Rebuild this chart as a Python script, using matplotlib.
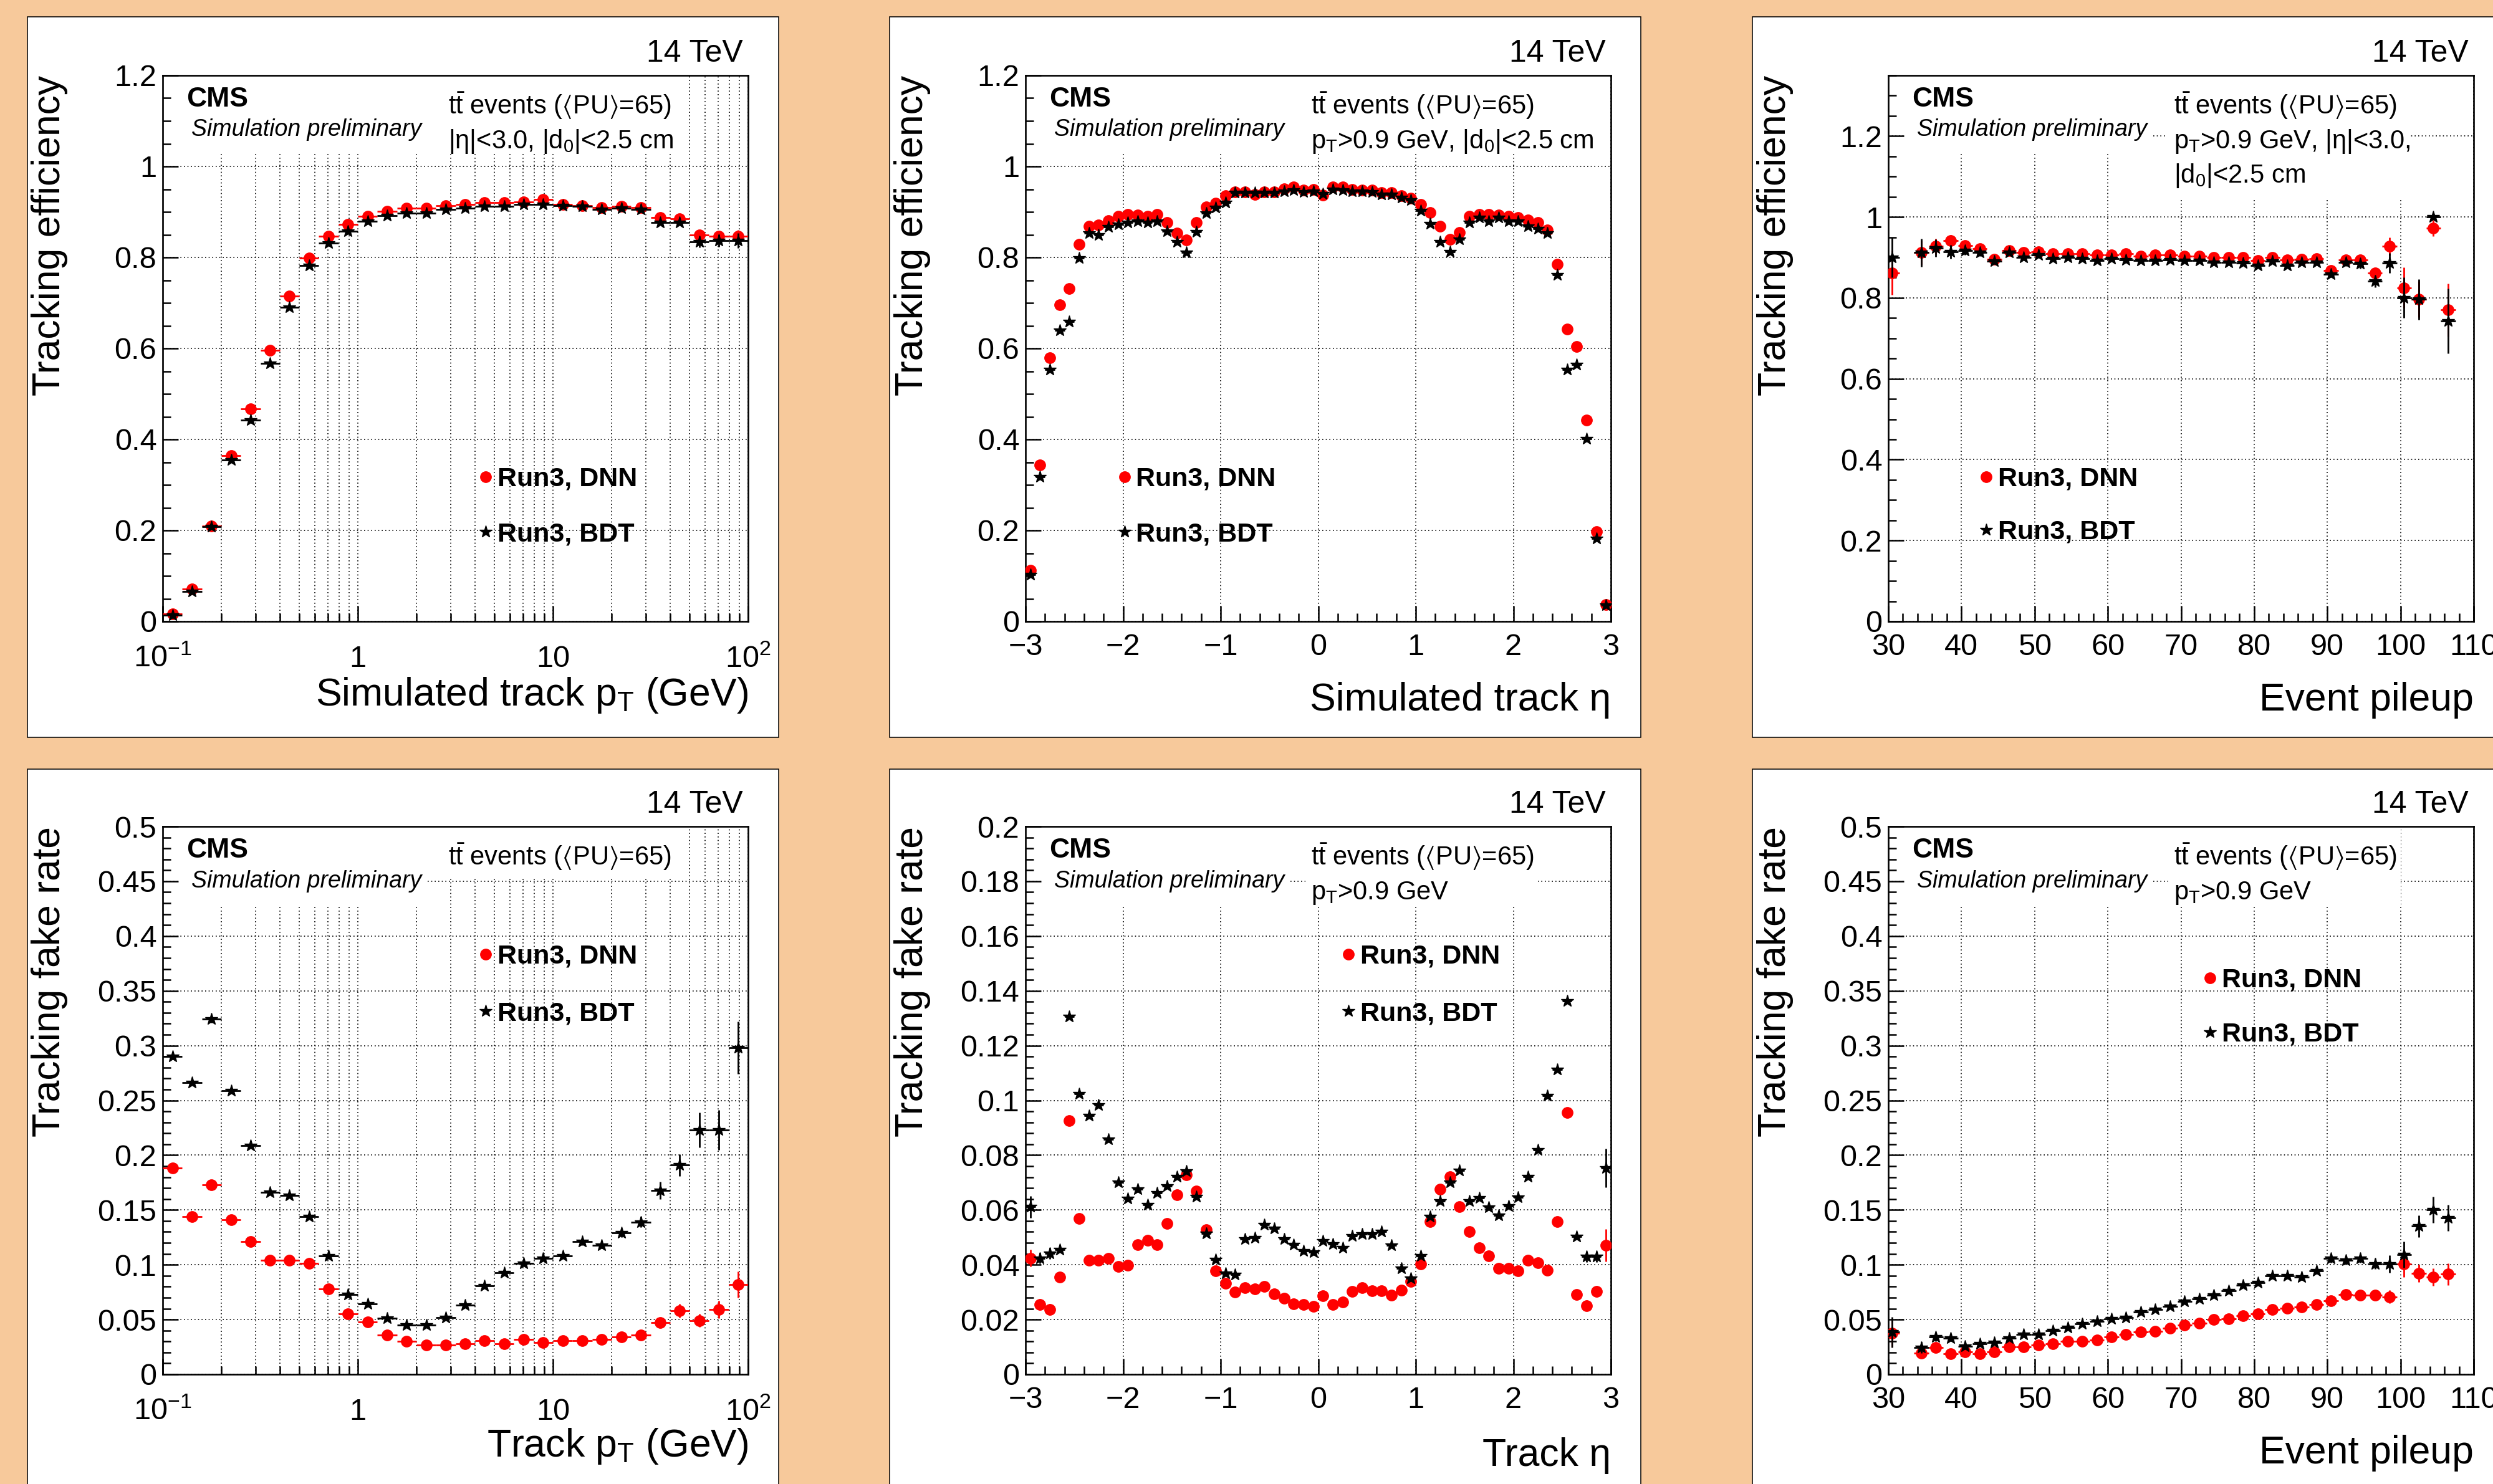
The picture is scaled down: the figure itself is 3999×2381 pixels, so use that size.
import numpy as np
import matplotlib
matplotlib.use("Agg")
import matplotlib.pyplot as plt
from matplotlib.patches import Rectangle
from matplotlib.ticker import (MultipleLocator, FixedLocator, FixedFormatter,
                               LogLocator, NullFormatter, FuncFormatter)

plt.rcParams["font.family"] = "Liberation Sans"
plt.rcParams["mathtext.fontset"] = "custom"
plt.rcParams["mathtext.rm"] = "Liberation Sans"
plt.rcParams["mathtext.it"] = "Liberation Sans:italic"
plt.rcParams["mathtext.bf"] = "Liberation Sans:bold"
plt.rcParams["mathtext.default"] = "regular"
plt.rcParams["mathtext.fallback"] = "stixsans"

# ---- data ----
# pT bins: 30 log bins from 0.1 to 100 GeV
pt_edges = np.logspace(-1, 2, 31)
eta_centers = np.round(np.arange(-2.95, 3.0, 0.1), 2)
pu_centers = [30.5, 34.5, 36.5, 38.5, 40.5, 42.5, 44.5, 46.5, 48.5, 50.5,
              52.5, 54.5, 56.5, 58.5, 60.5, 62.5, 64.5, 66.5, 68.5, 70.5,
              72.5, 74.5, 76.5, 78.5, 80.5, 82.5, 84.5, 86.5, 88.5, 90.5,
              92.5, 94.5, 96.5, 98.5, 100.5, 102.5, 104.5, 106.5]

# efficiency vs pT
dnn_eff_pt = [0.016, 0.071, 0.210, 0.365, 0.467, 0.596, 0.715, 0.799, 0.847, 0.872,
              0.890, 0.902, 0.908, 0.908, 0.914, 0.916, 0.921, 0.921, 0.922, 0.927,
              0.916, 0.914, 0.909, 0.913, 0.909, 0.887, 0.885, 0.850, 0.846, 0.846]
bdt_eff_pt = [0.014, 0.066, 0.208, 0.355, 0.442, 0.567, 0.690, 0.782, 0.832, 0.857,
              0.879, 0.892, 0.897, 0.897, 0.906, 0.908, 0.913, 0.913, 0.916, 0.916,
              0.914, 0.913, 0.906, 0.908, 0.906, 0.877, 0.877, 0.834, 0.837, 0.837]
dnn_eff_pt_err = [0.002, 0.002, 0.002, 0.002, 0.002, 0.002, 0.002, 0.002, 0.002, 0.002,
                  0.002, 0.002, 0.002, 0.002, 0.002, 0.002, 0.002, 0.002, 0.002, 0.002,
                  0.002, 0.003, 0.003, 0.003, 0.004, 0.005, 0.006, 0.010, 0.012, 0.014]
bdt_eff_pt_err = [0.002, 0.002, 0.002, 0.002, 0.002, 0.002, 0.002, 0.002, 0.002, 0.002,
                  0.002, 0.002, 0.002, 0.002, 0.002, 0.002, 0.002, 0.002, 0.002, 0.002,
                  0.002, 0.003, 0.003, 0.003, 0.004, 0.005, 0.006, 0.012, 0.014, 0.016]

# efficiency vs eta
dnn_eff_eta = [0.113, 0.344, 0.580, 0.696, 0.731, 0.829, 0.869, 0.871, 0.881, 0.890,
               0.895, 0.893, 0.890, 0.895, 0.877, 0.853, 0.839, 0.877, 0.911, 0.919,
               0.935, 0.944, 0.944, 0.939, 0.944, 0.944, 0.951, 0.955, 0.948, 0.950,
               0.937, 0.955, 0.955, 0.950, 0.948, 0.948, 0.942, 0.942, 0.935, 0.930,
               0.916, 0.898, 0.869, 0.840, 0.855, 0.890, 0.895, 0.895, 0.893, 0.890,
               0.888, 0.882, 0.877, 0.860, 0.785, 0.643, 0.604, 0.442, 0.197, 0.037]
bdt_eff_eta = [0.103, 0.318, 0.554, 0.640, 0.659, 0.798, 0.853, 0.849, 0.867, 0.873,
               0.877, 0.879, 0.877, 0.879, 0.858, 0.834, 0.811, 0.856, 0.897, 0.909,
               0.921, 0.942, 0.942, 0.942, 0.942, 0.942, 0.945, 0.948, 0.944, 0.945,
               0.940, 0.950, 0.948, 0.945, 0.945, 0.944, 0.939, 0.939, 0.931, 0.926,
               0.903, 0.874, 0.834, 0.813, 0.840, 0.877, 0.887, 0.879, 0.887, 0.879,
               0.879, 0.869, 0.863, 0.853, 0.762, 0.554, 0.565, 0.402, 0.182, 0.035]
eff_eta_err = [0.004, 0.003, 0.003, 0.003, 0.002, 0.002, 0.002, 0.002, 0.002, 0.002,
               0.002, 0.002, 0.002, 0.002, 0.002, 0.002, 0.002, 0.002, 0.002, 0.002,
               0.002, 0.002, 0.002, 0.002, 0.002, 0.002, 0.002, 0.002, 0.002, 0.002,
               0.002, 0.002, 0.002, 0.002, 0.002, 0.002, 0.002, 0.002, 0.002, 0.002,
               0.002, 0.002, 0.002, 0.002, 0.002, 0.002, 0.002, 0.002, 0.002, 0.002,
               0.002, 0.002, 0.002, 0.002, 0.002, 0.003, 0.003, 0.003, 0.003, 0.004]

# efficiency vs pileup
dnn_eff_pu = [0.862, 0.912, 0.927, 0.941, 0.929, 0.921, 0.896, 0.917, 0.912, 0.914,
              0.909, 0.909, 0.909, 0.906, 0.906, 0.909, 0.903, 0.906, 0.906, 0.903,
              0.903, 0.900, 0.900, 0.900, 0.892, 0.900, 0.894, 0.896, 0.897, 0.868,
              0.894, 0.894, 0.862, 0.927, 0.825, 0.797, 0.973, 0.770]
bdt_eff_pu = [0.900, 0.912, 0.923, 0.914, 0.917, 0.912, 0.890, 0.912, 0.900, 0.906,
              0.897, 0.900, 0.897, 0.892, 0.897, 0.894, 0.892, 0.892, 0.894, 0.892,
              0.892, 0.888, 0.888, 0.886, 0.880, 0.890, 0.880, 0.888, 0.888, 0.858,
              0.888, 0.884, 0.841, 0.886, 0.800, 0.796, 1.000, 0.743]
dnn_eff_pu_err = [0.055, 0.030, 0.020, 0.015, 0.010, 0.008, 0.007, 0.006, 0.005, 0.005,
                  0.005, 0.005, 0.004, 0.004, 0.004, 0.004, 0.004, 0.004, 0.004, 0.004,
                  0.004, 0.004, 0.004, 0.004, 0.005, 0.005, 0.005, 0.006, 0.007, 0.008,
                  0.009, 0.011, 0.014, 0.022, 0.050, 0.045, 0.020, 0.065]
bdt_eff_pu_err = [0.050, 0.035, 0.022, 0.017, 0.011, 0.009, 0.007, 0.006, 0.005, 0.005,
                  0.005, 0.005, 0.004, 0.004, 0.004, 0.004, 0.004, 0.004, 0.004, 0.004,
                  0.004, 0.004, 0.004, 0.004, 0.005, 0.005, 0.005, 0.006, 0.007, 0.008,
                  0.009, 0.011, 0.015, 0.025, 0.050, 0.050, 0.004, 0.080]

# fake rate vs pT
dnn_fake_pt = [0.188, 0.144, 0.173, 0.141, 0.121, 0.104, 0.104, 0.101, 0.078, 0.055,
               0.048, 0.036, 0.030, 0.027, 0.027, 0.028, 0.031, 0.028, 0.032, 0.029,
               0.031, 0.031, 0.032, 0.034, 0.036, 0.047, 0.058, 0.049, 0.059, 0.082]
bdt_fake_pt = [0.290, 0.266, 0.324, 0.259, 0.209, 0.166, 0.163, 0.144, 0.108, 0.073,
               0.064, 0.051, 0.045, 0.045, 0.052, 0.063, 0.081, 0.093, 0.101, 0.106,
               0.108, 0.121, 0.118, 0.129, 0.139, 0.168, 0.191, 0.223, 0.223, 0.298]
dnn_fake_pt_err = [0.003, 0.002, 0.002, 0.002, 0.002, 0.002, 0.002, 0.002, 0.002, 0.002,
                   0.002, 0.002, 0.001, 0.001, 0.001, 0.001, 0.001, 0.001, 0.002, 0.002,
                   0.002, 0.002, 0.002, 0.002, 0.003, 0.004, 0.006, 0.006, 0.008, 0.012]
bdt_fake_pt_err = [0.003, 0.002, 0.003, 0.002, 0.002, 0.002, 0.002, 0.002, 0.002, 0.002,
                   0.002, 0.002, 0.001, 0.001, 0.001, 0.002, 0.002, 0.002, 0.002, 0.002,
                   0.002, 0.003, 0.003, 0.004, 0.005, 0.008, 0.010, 0.016, 0.018, 0.024]

# fake rate vs eta
dnn_fake_eta = [0.0424, 0.0255, 0.0237, 0.0355, 0.0926, 0.0568, 0.0416, 0.0416, 0.0424, 0.0393,
                0.0398, 0.0473, 0.0490, 0.0473, 0.0551, 0.0655, 0.0727, 0.0670, 0.0528, 0.0377,
                0.0332, 0.0300, 0.0317, 0.0312, 0.0320, 0.0294, 0.0277, 0.0256, 0.0255, 0.0248,
                0.0286, 0.0255, 0.0265, 0.0303, 0.0317, 0.0306, 0.0306, 0.0289, 0.0308, 0.0338,
                0.0402, 0.0558, 0.0675, 0.0722, 0.0611, 0.0520, 0.0462, 0.0433, 0.0386, 0.0386,
                0.0377, 0.0416, 0.0407, 0.0381, 0.0558, 0.0956, 0.0291, 0.0251, 0.0303, 0.0471]
bdt_fake_eta = [0.0611, 0.0424, 0.0442, 0.0455, 0.1307, 0.1025, 0.0944, 0.0984, 0.0857, 0.0701,
                0.0641, 0.0675, 0.0620, 0.0663, 0.0687, 0.0722, 0.0741, 0.0649, 0.0514, 0.0419,
                0.0369, 0.0364, 0.0494, 0.0499, 0.0545, 0.0532, 0.0494, 0.0473, 0.0450, 0.0445,
                0.0488, 0.0476, 0.0462, 0.0506, 0.0511, 0.0511, 0.0520, 0.0471, 0.0386, 0.0350,
                0.0433, 0.0575, 0.0632, 0.0701, 0.0745, 0.0632, 0.0644, 0.0610, 0.0580, 0.0615,
                0.0646, 0.0722, 0.0819, 0.1018, 0.1113, 0.1364, 0.0502, 0.0429, 0.0429, 0.0753]
dnn_fake_eta_err = [0.003, 0.002, 0.002, 0.001, 0.001, 0.001, 0.001, 0.001, 0.001, 0.001,
                    0.001, 0.001, 0.001, 0.001, 0.001, 0.001, 0.001, 0.001, 0.001, 0.001,
                    0.001, 0.001, 0.001, 0.001, 0.001, 0.001, 0.001, 0.001, 0.001, 0.001,
                    0.001, 0.001, 0.001, 0.001, 0.001, 0.001, 0.001, 0.001, 0.001, 0.001,
                    0.001, 0.001, 0.001, 0.001, 0.001, 0.001, 0.001, 0.001, 0.001, 0.001,
                    0.001, 0.001, 0.001, 0.001, 0.001, 0.001, 0.001, 0.002, 0.002, 0.006]
bdt_fake_eta_err = [0.004, 0.002, 0.002, 0.001, 0.001, 0.001, 0.001, 0.001, 0.001, 0.001,
                    0.001, 0.001, 0.001, 0.001, 0.001, 0.001, 0.001, 0.001, 0.001, 0.001,
                    0.001, 0.001, 0.001, 0.001, 0.001, 0.001, 0.001, 0.001, 0.001, 0.001,
                    0.001, 0.001, 0.001, 0.001, 0.001, 0.001, 0.001, 0.001, 0.001, 0.001,
                    0.001, 0.001, 0.001, 0.001, 0.001, 0.001, 0.001, 0.001, 0.001, 0.001,
                    0.001, 0.001, 0.001, 0.001, 0.001, 0.001, 0.001, 0.002, 0.002, 0.007]

# fake rate vs pileup
dnn_fake_pu = [0.0373, 0.0193, 0.0245, 0.0185, 0.0206, 0.0185, 0.0206, 0.0249, 0.0249, 0.0266,
               0.0279, 0.0300, 0.0300, 0.0313, 0.0343, 0.0365, 0.0386, 0.0395, 0.0421, 0.0451,
               0.0464, 0.0502, 0.0506, 0.0536, 0.0549, 0.0592, 0.0601, 0.0614, 0.0635, 0.0674,
               0.0730, 0.0721, 0.0721, 0.0708, 0.1009, 0.0923, 0.0888, 0.0914]
bdt_fake_pu = [0.0386, 0.0245, 0.0343, 0.0330, 0.0258, 0.0279, 0.0288, 0.0330, 0.0365, 0.0365,
               0.0399, 0.0429, 0.0459, 0.0485, 0.0506, 0.0515, 0.0567, 0.0592, 0.0622, 0.0665,
               0.0687, 0.0721, 0.0764, 0.0815, 0.0837, 0.0901, 0.0901, 0.0888, 0.0944, 0.1060,
               0.1039, 0.1060, 0.1009, 0.1009, 0.1094, 0.1352, 0.1502, 0.1429]
dnn_fake_pu_err = [0.012, 0.004, 0.003, 0.003, 0.002, 0.002, 0.002, 0.002, 0.002, 0.002,
                   0.002, 0.002, 0.002, 0.002, 0.002, 0.002, 0.002, 0.002, 0.002, 0.002,
                   0.002, 0.002, 0.002, 0.002, 0.002, 0.002, 0.002, 0.002, 0.003, 0.003,
                   0.003, 0.003, 0.004, 0.006, 0.012, 0.008, 0.008, 0.010]
bdt_fake_pu_err = [0.014, 0.005, 0.004, 0.003, 0.003, 0.002, 0.002, 0.002, 0.002, 0.002,
                   0.002, 0.002, 0.002, 0.002, 0.002, 0.002, 0.002, 0.002, 0.002, 0.002,
                   0.002, 0.002, 0.002, 0.002, 0.003, 0.003, 0.003, 0.003, 0.003, 0.004,
                   0.004, 0.004, 0.005, 0.008, 0.012, 0.010, 0.012, 0.012]

# ---- layout (pixels of the 3999x2381 canvas) ----
W, H = 3999, 2381
col_left = [261, 1645, 3029]
ax_w = 939
row_top = [121, 1326]
row_bot = [997, 2205]
box_left = [44, 1427, 2811]
box_w = 1205
box_top = [27, 1234]
box_h = 1156

BG = "#F7C99B"
GRID = dict(color="black", linestyle=(0, (1, 2.4)), linewidth=1.2)

fig = plt.figure(figsize=(W / 100, H / 100), dpi=100, facecolor=BG)

pt_centers = np.sqrt(pt_edges[:-1] * pt_edges[1:])
pt_xerr = [pt_centers - pt_edges[:-1], pt_edges[1:] - pt_centers]

t_line = r"$t\bar{t}$ events ($\langle$PU$\rangle$=65)"
panels = [
    dict(x=pt_centers, xerr=pt_xerr, kind="log", dnn=dnn_eff_pt, dnn_e=dnn_eff_pt_err,
         bdt=bdt_eff_pt, bdt_e=bdt_eff_pt_err, ylim=1.2, ymaj=0.2, ymin=0.05,
         ylabel="Tracking efficiency", xlabel=r"Simulated track $p_T$ (GeV)", xlab_y=-0.154,
         lines=[t_line, r"|η|<3.0, |$d_0$|<2.5 cm"], rbox=(0.478, 0.875, 0.857),
         leg=(0.552, 0.265, 0.164)),
    dict(x=eta_centers, xerr=0.05, kind="eta", dnn=dnn_eff_eta, dnn_e=eff_eta_err,
         bdt=bdt_eff_eta, bdt_e=eff_eta_err, ylim=1.2, ymaj=0.2, ymin=0.05,
         ylabel="Tracking efficiency", xlabel="Simulated track η", xlab_y=-0.163,
         lines=[t_line, r"$p_T$>0.9 GeV, |$d_0$|<2.5 cm"], rbox=(0.478, 0.98, 0.857),
         leg=(0.169, 0.265, 0.164)),
    dict(x=pu_centers, xerr=1.0, kind="pu", dnn=dnn_eff_pu, dnn_e=dnn_eff_pu_err,
         bdt=bdt_eff_pu, bdt_e=bdt_eff_pu_err, ylim=1.35, ymaj=0.2, ymin=0.05,
         ylabel="Tracking efficiency", xlabel="Event pileup", xlab_y=-0.163,
         lines=[t_line, r"$p_T$>0.9 GeV, |η|<3.0,", r"|$d_0$|<2.5 cm"],
         rbox=(0.475, 0.89, 0.773), leg=(0.167, 0.265, 0.168)),
    dict(x=pt_centers, xerr=pt_xerr, kind="log", dnn=dnn_fake_pt, dnn_e=dnn_fake_pt_err,
         bdt=bdt_fake_pt, bdt_e=bdt_fake_pt_err, ylim=0.5, ymaj=0.05, ymin=0.01,
         ylabel="Tracking fake rate", xlabel=r"Track $p_T$ (GeV)", xlab_y=-0.150,
         lines=[t_line], rbox=(0.478, 0.875, 0.905), leg=(0.552, 0.767, 0.663)),
    dict(x=eta_centers, xerr=0.05, kind="eta", dnn=dnn_fake_eta, dnn_e=dnn_fake_eta_err,
         bdt=bdt_fake_eta, bdt_e=bdt_fake_eta_err, ylim=0.2, ymaj=0.02, ymin=0.004,
         ylabel="Tracking fake rate", xlabel="Track η", xlab_y=-0.167,
         lines=[t_line, r"$p_T$>0.9 GeV"], rbox=(0.478, 0.875, 0.857),
         leg=(0.552, 0.767, 0.663)),
    dict(x=pu_centers, xerr=1.0, kind="pu", dnn=dnn_fake_pu, dnn_e=dnn_fake_pu_err,
         bdt=bdt_fake_pu, bdt_e=bdt_fake_pu_err, ylim=0.5, ymaj=0.05, ymin=0.01,
         ylabel="Tracking fake rate", xlabel="Event pileup", xlab_y=-0.163,
         lines=[t_line, r"$p_T$>0.9 GeV"], rbox=(0.478, 0.875, 0.857),
         leg=(0.550, 0.724, 0.625)),
]

line_y = [0.929, 0.867, 0.804]

for i, p in enumerate(panels):
    r, c = divmod(i, 3)
    # white canvas box behind the pad
    fig.add_artist(Rectangle((box_left[c] / W, 1 - (box_top[r] + box_h) / H), box_w / W, box_h / H,
                             transform=fig.transFigure, facecolor="white", edgecolor="black",
                             linewidth=1.1, zorder=-1))
    ax = fig.add_axes([col_left[c] / W, 1 - row_bot[r] / H, ax_w / W,
                       (row_bot[r] - row_top[r]) / H])
    ax.set_axisbelow(True)

    ax.errorbar(p["x"], p["dnn"], yerr=p["dnn_e"], xerr=p["xerr"], fmt="o", color="red",
                ms=12.5, elinewidth=2.0, capsize=0, zorder=3)
    ax.errorbar(p["x"], p["bdt"], yerr=p["bdt_e"], xerr=p["xerr"], fmt="*", color="black",
                ms=15, elinewidth=2.0, capsize=0, zorder=4)

    ax.set_ylim(0, p["ylim"])
    ax.yaxis.set_major_locator(MultipleLocator(p["ymaj"]))
    ax.yaxis.set_minor_locator(MultipleLocator(p["ymin"]))
    ax.yaxis.set_major_formatter(FuncFormatter(lambda v, pos: f"{v:g}"))

    if p["kind"] == "log":
        ax.set_xscale("log")
        ax.set_xlim(0.1, 100)
        ax.xaxis.set_major_locator(FixedLocator([0.1, 1, 10, 100]))
        ax.xaxis.set_major_formatter(FixedFormatter([r"$10^{-1}$", "1", "10", r"$10^{2}$"]))
        ax.xaxis.set_minor_locator(LogLocator(base=10, subs=np.arange(2, 10), numticks=20))
        ax.xaxis.set_minor_formatter(NullFormatter())
        ax.grid(True, axis="x", which="both", **GRID)
        xpad = 27
    elif p["kind"] == "eta":
        ax.set_xlim(-3, 3)
        ax.xaxis.set_major_locator(MultipleLocator(1))
        ax.xaxis.set_minor_locator(MultipleLocator(0.2))
        ax.grid(True, axis="x", which="major", **GRID)
        xpad = 14
    else:
        ax.set_xlim(30, 110)
        ax.xaxis.set_major_locator(MultipleLocator(10))
        ax.xaxis.set_minor_locator(MultipleLocator(2))
        ax.grid(True, axis="x", which="major", **GRID)
        xpad = 14
    ax.grid(True, axis="y", which="major", **GRID)

    for s in ax.spines.values():
        s.set_linewidth(1.9)
    ax.tick_params(which="both", direction="in", top=False, right=False, width=1.8,
                   labelsize=35)
    ax.tick_params(which="major", length=18)
    ax.tick_params(which="minor", length=9.5)
    ax.tick_params(axis="x", pad=xpad)
    ax.tick_params(axis="y", pad=7)

    # white boxes of the text panes hide the grid
    ax.add_patch(Rectangle((0.03, 0.857), 0.42, 0.143, transform=ax.transAxes,
                           facecolor="white", edgecolor="none", zorder=1))
    x0, x1, y0 = p["rbox"]
    ax.add_patch(Rectangle((x0, y0), x1 - x0, 1 - y0, transform=ax.transAxes,
                           facecolor="white", edgecolor="none", zorder=1))

    tr = ax.transAxes
    ax.text(0.991, 1.025, "14 TeV", transform=tr, ha="right", va="baseline", fontsize=36)
    ax.text(0.041, 0.943, "CMS", transform=tr, fontsize=32, weight="bold", va="baseline", zorder=5)
    ax.text(0.049, 0.889, "Simulation preliminary", transform=tr, fontsize=27,
            style="italic", va="baseline", zorder=5)
    for k, line in enumerate(p["lines"]):
        ax.text(0.488, line_y[k], line, transform=tr, fontsize=30, va="baseline", zorder=5)

    lx, ly1, ly2 = p["leg"]
    ax.plot([lx], [ly1], "o", color="red", ms=12.5, transform=tr, clip_on=False, zorder=5)
    ax.plot([lx], [ly2], "*", color="black", ms=15, transform=tr, clip_on=False, zorder=5)
    ax.text(lx + 0.02, ly1 - 0.017, "Run3, DNN", transform=tr, fontsize=31, weight="bold",
            va="baseline", zorder=5)
    ax.text(lx + 0.02, ly2 - 0.017, "Run3, BDT", transform=tr, fontsize=31, weight="bold",
            va="baseline", zorder=5)

    ax.text(-0.193, 1.0, p["ylabel"], transform=tr, rotation=90, ha="center", va="top",
            fontsize=45)
    ax.text(1.0, p["xlab_y"], p["xlabel"], transform=tr, ha="right", va="baseline",
            fontsize=45)

fig.savefig("out.png", dpi=100, facecolor=BG)
